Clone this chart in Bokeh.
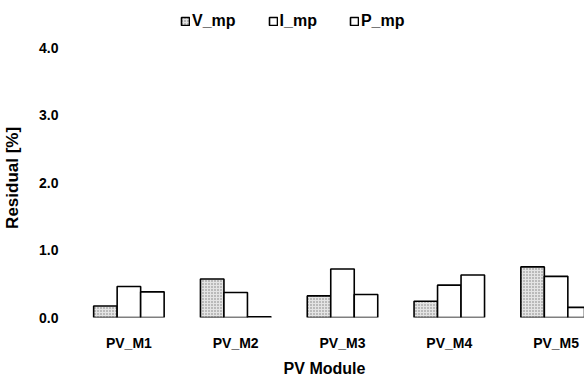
from bokeh.plotting import figure
from bokeh.models import (ColumnDataSource, Range1d, FixedTicker, Legend,
                          LegendItem, NumeralTickFormatter, CustomJSTickFormatter)
from bokeh.transform import dodge
from bokeh.embed import file_html
from bokeh.resources import INLINE

modules = ["PV_M1", "PV_M2", "PV_M3", "PV_M4", "PV_M5"]
v_mp = [0.17, 0.57, 0.32, 0.24, 0.75]
i_mp = [0.46, 0.37, 0.72, 0.48, 0.61]
p_mp = [0.38, 0.01, 0.34, 0.63, 0.15]
series_names = ["V_mp", "I_mp", "P_mp"]
y_ticks = [0, 1, 2, 3, 4]

FONT = "Liberation Sans"

src = ColumnDataSource(dict(x=list(range(len(modules))), v=v_mp, i=i_mp, p=p_mp))

p = figure(width=584, height=379,
           x_range=Range1d(-0.603, 4.266), y_range=Range1d(0, 4.70),
           output_backend="svg", toolbar_location=None,
           min_border_left=63, min_border_right=0,
           min_border_top=0, min_border_bottom=62)
p.outline_line_color = None
p.grid.visible = False

bw = 0.22
r_v = p.vbar(x=dodge("x", -bw), top="v", width=bw, source=src,
             fill_color="#e4e4e4", hatch_pattern="dot", hatch_color="#7a7a7a",
             hatch_scale=3, line_color="black", line_width=1.6)
r_i = p.vbar(x=dodge("x", 0), top="i", width=bw, source=src,
             fill_color="white", line_color="black", line_width=1.6)
r_p = p.vbar(x=dodge("x", bw), top="p", width=bw, source=src,
             fill_color="white", line_color="black", line_width=1.6)

# axes
xa = p.xaxis[0]
xa.ticker = FixedTicker(ticks=list(range(len(modules))))
xa.formatter = CustomJSTickFormatter(args=dict(names=modules),
                                     code="const n = names[Math.round(tick)]; return n === undefined ? '' : n;")
xa.axis_label = "PV Module"
ya = p.yaxis[0]
ya.ticker = FixedTicker(ticks=y_ticks)
ya.formatter = NumeralTickFormatter(format="0.0")
# trailing no-break spaces shift the rotated label down to sit centred on the 0-4 span
ya.axis_label = "Residual [%]" + "\u00a0" * 8

for ax in (xa, ya):
    ax.axis_line_color = None
    ax.major_tick_line_color = None
    ax.minor_tick_line_color = None
    ax.major_tick_out = 0
    ax.major_tick_in = 0
    ax.minor_tick_out = 0
    ax.major_label_text_font = FONT
    ax.major_label_text_font_style = "bold"
    ax.major_label_text_color = "black"
    ax.axis_label_text_font = FONT
    ax.axis_label_text_font_style = "bold"
    ax.axis_label_text_color = "black"

xa.major_label_text_font_size = "14px"
xa.major_label_standoff = 17
xa.axis_label_text_font_size = "16px"
xa.axis_label_standoff = 6
ya.major_label_text_font_size = "14px"
ya.major_label_standoff = 6
ya.axis_label_text_font_size = "17px"
ya.axis_label_standoff = 14

legend = Legend(items=[LegendItem(label=series_names[0], renderers=[r_v]),
                       LegendItem(label=series_names[1], renderers=[r_i]),
                       LegendItem(label=series_names[2], renderers=[r_p])],
                orientation="horizontal", location=(116, 287),
                glyph_width=10, glyph_height=10, label_standoff=2,
                spacing=32, padding=4, margin=0,
                label_text_font=FONT, label_text_font_style="bold",
                label_text_font_size="16px", label_text_color="black",
                border_line_color=None, background_fill_alpha=0)
p.add_layout(legend)

open("out.html", "w").write(file_html(p, INLINE))
